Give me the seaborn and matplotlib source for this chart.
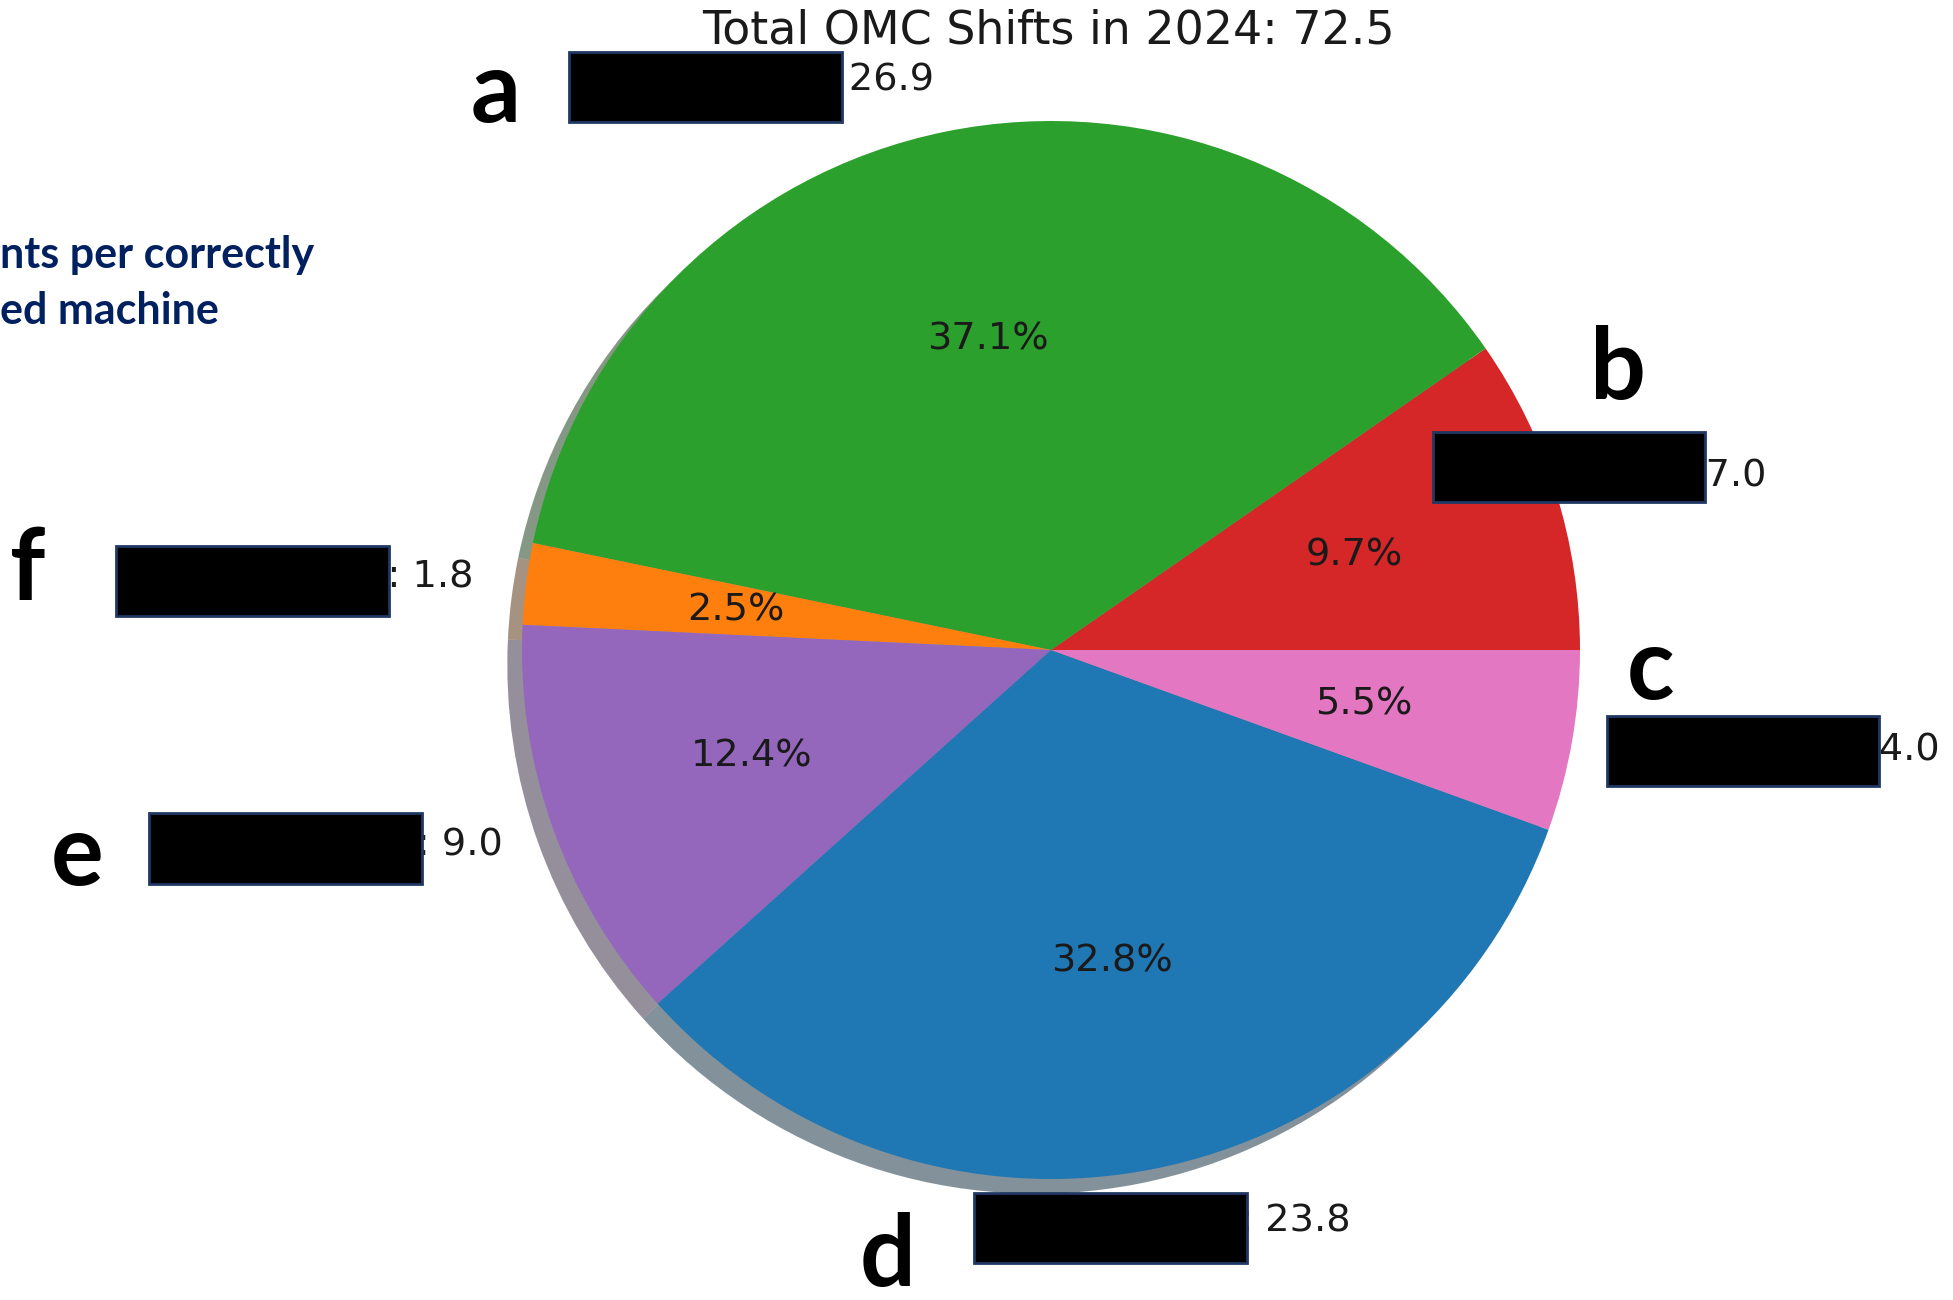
import matplotlib
matplotlib.use("Agg")
import matplotlib.pyplot as plt
from matplotlib.patches import Rectangle
import seaborn as sns

# slices, counter-clockwise from 3 o'clock
tags = ["b", "a", "f", "e", "d", "c"]
names = ["Ops", "Production", "Safety", "Quality", "HSE", "Engineering"]  # redacted in the original
shifts = [7.0, 26.9, 1.8, 9.0, 23.8, 4.0]
palette_idx = [3, 2, 1, 4, 0, 6]
total = round(sum(shifts), 1)

W, H = 1953, 1300
R, CX, CY = 529, 1051, 650  # pie radius / centre in pixels

# redaction boxes over the slice names (x0, y0, x1, y1), pixels from top-left
boxes = {
    "a": (569, 52, 842, 122),
    "b": (1433, 432, 1705, 502),
    "c": (1607, 716, 1879, 786),
    "d": (974, 1193, 1247, 1263),
    "e": (149, 813, 422, 884),
    "f": (116, 546, 389, 616),
}
# big letters pasted on the slide (centre x, baseline y)
tag_pos = {
    "a": (496, 122),
    "b": (1618, 399),
    "c": (1650, 699),
    "d": (888, 1286),
    "e": (77, 885),
    "f": (28, 600),
}

sns.set_style("white")
plt.rcParams["text.color"] = "black"
fig = plt.figure(figsize=(W / 100, H / 100), dpi=100)
ax = fig.add_axes([(CX - 1.25 * R) / W, (H - CY - 1.25 * R) / H, 2.5 * R / W, 2.5 * R / H])

pal = sns.color_palette("tab10")
colors = [pal[i] for i in palette_idx]
labels = [f"{n}: {v}" for n, v in zip(names, shifts)]

ax.pie(shifts, labels=labels, colors=colors, autopct="%1.1f%%", startangle=0,
       shadow=True, wedgeprops={"linewidth": 0},
       textprops={"fontsize": 27.5, "color": "#1a1a1a"})
ax.set_xlim(-1.25, 1.25)
ax.set_ylim(-1.25, 1.25)

fig.text(1048 / W, 1 - 43 / H, f"Total OMC Shifts in 2024: {total}",
         ha="center", va="baseline", fontsize=33, color="#1a1a1a")

for k, (x0, y0, x1, y1) in boxes.items():
    fig.add_artist(Rectangle((x0 / W, 1 - y1 / H), (x1 - x0) / W, (y1 - y0) / H,
                             transform=fig.transFigure, facecolor="black",
                             edgecolor="#1f3864", lw=2, zorder=10))

for k, (x, y) in tag_pos.items():
    fig.text(x / W, 1 - y / H, k, ha="center", va="baseline", fontsize=71,
             fontweight="bold", family="Lato", color="black")

# cropped slide heading on the left
fig.text(0, 1 - 268 / H, "nts per correctly", ha="left", va="baseline",
         fontsize=31, fontweight="bold", family="Lato", color="#002060")
fig.text(0, 1 - 324 / H, "ed machine", ha="left", va="baseline",
         fontsize=31, fontweight="bold", family="Lato", color="#002060")

fig.savefig("out.png", dpi=100)
